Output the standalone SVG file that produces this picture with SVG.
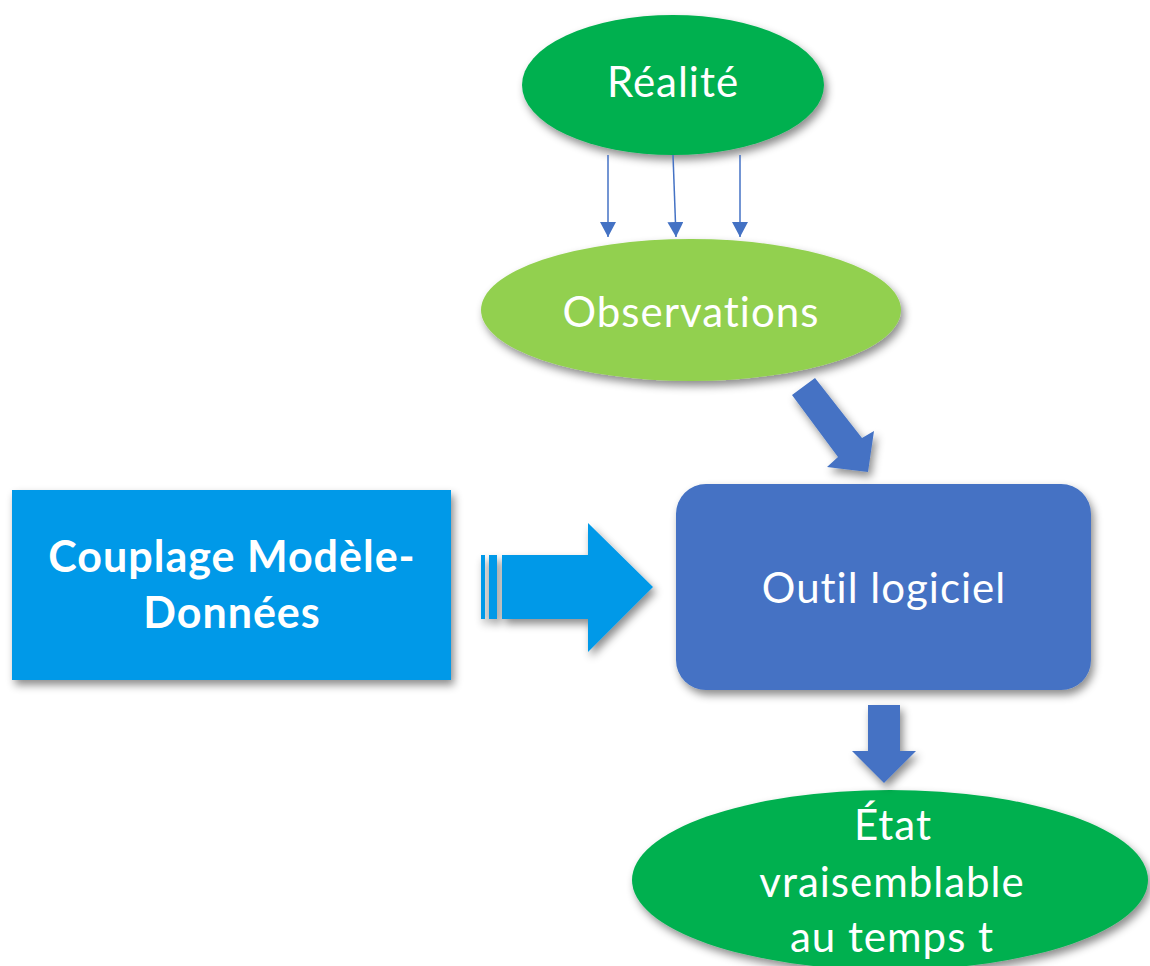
<svg xmlns="http://www.w3.org/2000/svg" width="1150" height="966" viewBox="0 0 1150 966">
<defs>
<filter id="sh" x="-20%" y="-20%" width="140%" height="150%">
<feDropShadow dx="3" dy="5" stdDeviation="4" flood-color="#000" flood-opacity="0.45"/>
</filter>
<marker id="ah" viewBox="0 0 15 16" refX="15" refY="8" markerWidth="15" markerHeight="16" markerUnits="userSpaceOnUse" orient="auto">
<path d="M0,0 L15,8 L0,16 Z" fill="#4472C4"/>
</marker>
<style>
.t{font-family:Lato,"Open Sans","Liberation Sans",sans-serif;fill:#fff;text-anchor:middle;letter-spacing:1px}
.n{font-size:42px}
.b{font-size:43px;font-weight:bold}
</style>
</defs>
<rect width="1150" height="966" fill="#fff"/>
<g id="realite">
<ellipse cx="673" cy="85" rx="151" ry="70" fill="#00B050" filter="url(#sh)"/>
<text class="t n" x="673" y="97">Réalité</text>
</g>
<g id="observations">
<ellipse cx="691" cy="310" rx="210" ry="71" fill="#92D050" filter="url(#sh)"/>
<text class="t n" x="691" y="327">Observations</text>
</g>
<g id="outil">
<rect x="676" y="484" width="415" height="206" rx="30" fill="#4472C4" filter="url(#sh)"/>
<text class="t n" x="884" y="603">Outil logiciel</text>
</g>
<g id="couplage">
<rect x="12" y="490" width="439" height="190" fill="#0099E8" filter="url(#sh)"/>
<text class="t b" x="232" y="572">Couplage Modèle-</text>
<text class="t b" x="232" y="628">Données</text>
</g>
<g id="etat">
<ellipse cx="890" cy="880" rx="258" ry="90" fill="#00B050" filter="url(#sh)"/>
<text class="t n" x="893" y="840">État</text>
<text class="t n" x="892" y="897">vraisemblable</text>
<text class="t n" x="892" y="952">au temps t</text>
</g>
<g id="connectors">
<line x1="608" y1="155" x2="608" y2="237" stroke="#4472C4" stroke-width="1.5" marker-end="url(#ah)"/>
<line x1="673" y1="155" x2="676" y2="237" stroke="#4472C4" stroke-width="1.5" marker-end="url(#ah)"/>
<line x1="740" y1="155" x2="740" y2="237" stroke="#4472C4" stroke-width="1.5" marker-end="url(#ah)"/>
<polygon points="792,395 815,378 862,438 874,431 868,472 827,467 838,457" fill="#4472C4" filter="url(#sh)"/>
<g fill="#0099E8" filter="url(#sh)">
<rect x="481" y="555" width="4" height="64"/>
<rect x="489" y="555" width="8" height="64"/>
<polygon points="502,555 588,555 588,523 653,587 588,652 588,619 502,619"/>
</g>
<polygon points="868,705 900,705 900,751 916,751 884,783 852,751 868,751" fill="#4472C4" filter="url(#sh)"/>
</g>
</svg>
